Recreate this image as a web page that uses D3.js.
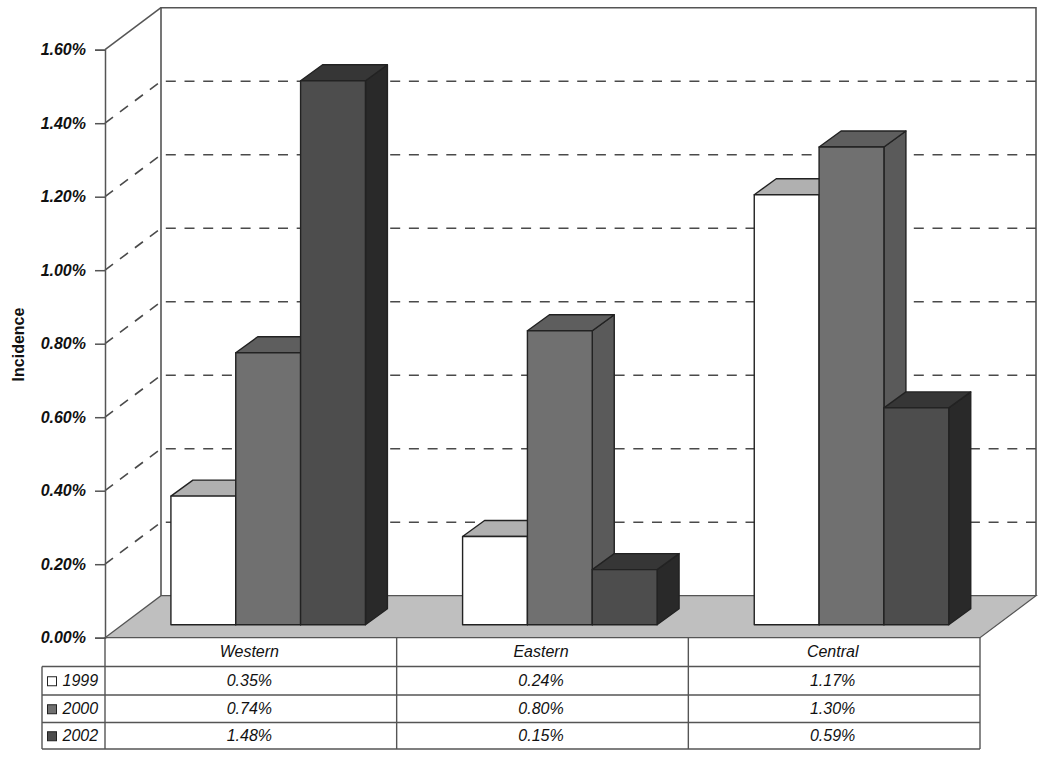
<!DOCTYPE html>
<html>
<head>
<meta charset="utf-8">
<script src="https://cdn.jsdelivr.net/npm/d3@7"></script>
<style>
body { margin: 0; background: #fff; }
text { font-family: "Liberation Sans", Arial, sans-serif; fill: #111; }
</style>
</head>
<body>
<svg width="1050" height="757"></svg>
<script>
const regions = ["Western", "Eastern", "Central"];
const years = ["1999", "2000", "2002"];
const v1999 = [0.35, 0.24, 1.17];
const v2000 = [0.74, 0.80, 1.30];
const v2002 = [1.48, 0.15, 0.59];
const yTicks = [0, 0.2, 0.4, 0.6, 0.8, 1.0, 1.2, 1.4, 1.6];

const series = [v1999, v2000, v2002];
const faceCol = ["#ffffff", "#707070", "#4d4d4d"];
const topCol = ["#b0b0b0", "#5e5e5e", "#363636"];
const sideCol = ["#9a9a9a", "#5a5a5a", "#292929"];

const svg = d3.select("svg");

// plot box, front plane
const left = 105, right = 980, y0 = 637.7, y1 = 49.7;
// depth of the box and of the bars
const depthX = 56, depthY = 42;
const barDx = 22, barDy = 16;
// bars stand this far back from the front edge of the floor
const floorY = 13, floorX = floorY * depthX / depthY;

const x = d3.scaleBand().domain(regions).range([left, right]);
const xBar = d3.scaleBand().domain(years).range([0, 194.5]);
const y = d3.scaleLinear().domain([0, 1.6]).range([y0, y1]);

const line = d3.line();
const grey = "#555", dark = "#222";

// back wall
svg.append("path")
    .attr("d", line([[left + depthX, y(0) - depthY], [left + depthX, y(1.6) - depthY], [right + depthX, y(1.6) - depthY], [right + depthX, y(0) - depthY]]))
    .attr("fill", "#fff").attr("stroke", grey).attr("stroke-width", 1.6);

// side wall
svg.append("path")
    .attr("d", line([[left, y(1.6)], [left + depthX, y(1.6) - depthY]]))
    .attr("stroke", grey).attr("stroke-width", 1.5);

// floor
svg.append("path")
    .attr("d", line([[left, y(0)], [left + depthX, y(0) - depthY], [right + depthX, y(0) - depthY], [right, y(0)]]) + "Z")
    .attr("fill", "#bfbfbf").attr("stroke", grey).attr("stroke-width", 1.3);

// dashed grid
const grid = yTicks.slice(1, -1);
svg.append("g").selectAll("path").data(grid).join("path")
    .attr("d", d => line([[left, y(d)], [left + depthX, y(d) - depthY], [right + depthX, y(d) - depthY]]))
    .attr("fill", "none").attr("stroke", "#4a4a4a").attr("stroke-width", 1.6)
    .attr("stroke-dasharray", "10,8.7");

// y axis
const yAxis = svg.append("g")
    .attr("transform", "translate(" + left + ",0)")
    .call(d3.axisLeft(y).tickValues(yTicks).tickSize(10).tickPadding(9).tickFormat(d => d3.format(".2f")(d) + "%"));
yAxis.selectAll("line, path").attr("stroke", grey).attr("stroke-width", 1.5);
yAxis.selectAll("text")
    .attr("font-size", 16).attr("font-weight", "bold").attr("font-style", "italic")
    .attr("font-family", "Liberation Sans").attr("fill", "#111");

svg.append("text")
    .attr("transform", "translate(24,344.5) rotate(-90)")
    .attr("text-anchor", "middle")
    .attr("font-size", 16).attr("font-weight", "bold")
    .text("Incidence");

// bars
const base = y(0) - floorY;
const barH = v => y(0) - y(v);
const groups = svg.append("g").selectAll("g").data(regions).join("g")
    .attr("transform", r => "translate(" + (x(r) + x.bandwidth() / 2 + floorX - xBar.range()[1] / 2) + ",0)");

years.forEach((yr, s) => {
    const bw = xBar.bandwidth();
    const bar = groups.append("g").attr("transform", "translate(" + xBar(yr) + ",0)");
    const topY = (r, i) => base - barH(series[s][i]);
    bar.append("path")
        .attr("d", (r, i) => line([[bw, topY(r, i)], [bw + barDx, topY(r, i) - barDy], [bw + barDx, base - barDy], [bw, base]]) + "Z")
        .attr("fill", sideCol[s]);
    bar.append("path")
        .attr("d", (r, i) => line([[0, topY(r, i)], [barDx, topY(r, i) - barDy], [bw + barDx, topY(r, i) - barDy], [bw, topY(r, i)]]) + "Z")
        .attr("fill", topCol[s]);
    bar.append("rect")
        .attr("y", (r, i) => topY(r, i))
        .attr("width", bw)
        .attr("height", (r, i) => barH(series[s][i]))
        .attr("fill", faceCol[s]);
    bar.selectAll("path, rect")
        .attr("stroke", dark).attr("stroke-width", 1.4).attr("stroke-linejoin", "round");
});

// data table under the plot
const rowY = [y(0), 666.5, 695, 722.5, 749];
const tableLeft = 42;
const tbl = svg.append("g").attr("stroke", grey).attr("stroke-width", 1.4);
rowY.slice(1).forEach(ry => {
    tbl.append("path").attr("d", line([[tableLeft, ry], [right, ry]]));
});
[left, x("Eastern"), x("Central"), right].forEach(vx => {
    tbl.append("path").attr("d", line([[vx, y(0)], [vx, rowY[4]]]));
});
tbl.append("path").attr("d", line([[tableLeft, rowY[1]], [tableLeft, rowY[4]]]));

regions.forEach(r => {
    svg.append("text")
        .attr("x", x(r) + x.bandwidth() / 2 - 1.5)
        .attr("y", (rowY[0] + rowY[1]) / 2 + 5)
        .attr("text-anchor", "middle")
        .attr("font-size", 16).attr("font-style", "italic")
        .text(r);
});
years.forEach((yr, s) => {
    const cy = (rowY[s + 1] + rowY[s + 2]) / 2;
    svg.append("rect")
        .attr("x", 47.5).attr("y", cy - 4).attr("width", 9).attr("height", 9)
        .attr("fill", faceCol[s]).attr("stroke", dark).attr("stroke-width", 1);
    svg.append("text")
        .attr("x", 62.5).attr("y", cy + 5.5)
        .attr("font-size", 16).attr("font-style", "italic")
        .text(yr);
    regions.forEach((r, i) => {
        svg.append("text")
            .attr("x", x(r) + x.bandwidth() / 2 - 1.5)
            .attr("y", cy + 5.5)
            .attr("text-anchor", "middle")
            .attr("font-size", 16).attr("font-style", "italic")
            .text(d3.format(".2f")(series[s][i]) + "%");
    });
});
</script>
</body>
</html>
